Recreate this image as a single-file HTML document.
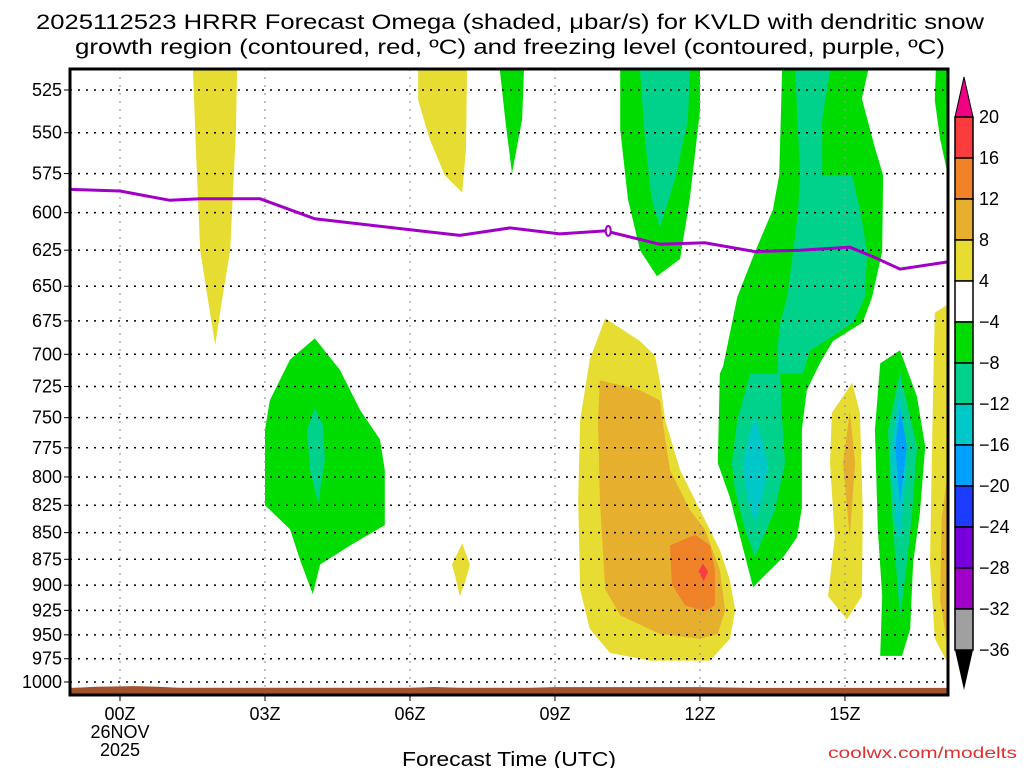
<!DOCTYPE html>
<html><head><meta charset="utf-8"><style>
body{margin:0;background:#fff;}
svg{display:block;font-family:"Liberation Sans",sans-serif;}
</style></head><body>
<svg id="c" width="1024" height="768" viewBox="0 0 1024 768">
<text x="510" y="29" text-anchor="middle" font-size="21" textLength="948" lengthAdjust="spacingAndGlyphs">2025112523 HRRR Forecast Omega (shaded, μbar/s) for KVLD with dendritic snow</text>
<text x="510" y="54" text-anchor="middle" font-size="21" textLength="870" lengthAdjust="spacingAndGlyphs">growth region (contoured, red, ºC) and freezing level (contoured, purple, ºC)</text>
<g id="fills"></g>
<g id="grid"></g>
<g id="lines"></g>
<g id="axes"></g>
<g id="cbar"></g>
<text x="509" y="766" text-anchor="middle" font-size="20" textLength="214" lengthAdjust="spacingAndGlyphs">Forecast Time (UTC)</text>
<text x="1017" y="758" text-anchor="end" font-size="16" fill="#e03030" textLength="189" lengthAdjust="spacingAndGlyphs">coolwx.com/modelts</text>
</svg>
<script>
const pressureTicks=[525,550,575,600,625,650,675,700,725,750,775,800,825,850,875,900,925,950,975,1000];
const hourTicks=[0,3,6,9,12,15];
const hourLabels=["00Z","03Z","06Z","09Z","12Z","15Z"];
const cbarLabels=["20","16","12","8","4","−4","−8","−12","−16","−20","−24","−28","−32","−36"];
const cbarColors=["#fa3c3c","#f08228","#e6af2d","#e6dc32","#ffffff","#00dc00","#00d28c","#00c8c8","#00a0ff","#1e3cff","#7800dc","#a000c8","#a0a0a0"];
const C={y1:"#e6dc32",y2:"#e6af2d",o:"#f08228",r:"#fa3c3c",g:"#00dc00",t:"#00d28c",c:"#00c8c8",b:"#00a0ff"};
const yellowLeft=[[1.51,514],[2.42,514],[2.40,548],[2.28,625],[2.11,660],[1.97,693],[1.82,660],[1.66,625],[1.57,560]];
const yellow06=[[6.17,514],[7.18,514],[7.16,560],[7.08,587],[6.72,576],[6.41,554],[6.17,531]];
const green08=[[7.86,514],[8.36,514],[8.32,542],[8.11,575],[7.97,542]];
const green11=[[10.35,514],[12.0,514],[12.0,537],[11.79,591],[11.59,631],[11.11,643],[10.76,625],[10.51,591],[10.35,548]];
const teal11=[[10.76,514],[11.79,514],[11.75,542],[11.48,579],[11.17,610],[11.0,591],[10.86,554]];
const green13=[[13.70,514],[13.64,576],[13.51,598],[13.14,626],[12.77,658],[12.48,709],[12.41,715],[12.37,788],[12.62,818],[12.83,854],[13.10,902],[13.72,873],[14.01,854],[14.11,827],[14.11,760],[14.21,728],[14.48,707],[14.75,690],[15.37,676],[15.56,658],[15.77,626],[15.79,576],[15.62,559],[15.35,530],[15.48,514]];
const teal14=[[13.97,514],[14.07,576],[14.03,598],[13.93,626],[13.80,658],[13.66,676],[13.61,693],[13.61,715],[14.13,715],[14.28,697],[14.55,691],[15.17,676],[15.41,658],[15.46,626],[15.31,598],[15.15,576],[14.53,576],[14.53,542],[14.69,514]];
const teal13=[[13.04,715],[13.66,715],[13.70,752],[13.76,788],[13.55,829],[13.14,873],[12.93,847],[12.72,811],[12.66,788],[12.77,752]];
const cyan13=[[13.14,749],[13.28,768],[13.41,791],[13.28,820],[13.14,841],[12.99,820],[12.89,791],[12.99,768]];
const green16=[[16.14,697],[16.49,733],[16.66,774],[16.55,832],[16.41,879],[16.35,944],[16.18,972],[15.73,972],[15.77,911],[15.68,847],[15.62,760],[15.73,707]];
const teal16=[[16.14,714],[16.49,774],[16.39,832],[16.24,895],[16.14,932],[16.08,895],[15.97,832],[15.89,760]];
const cyan16=[[16.14,728],[16.28,788],[16.14,857],[16.08,847],[15.93,783]];
const blue16=[[16.14,742],[16.28,774],[16.14,823],[16.04,774]];
const yellow15=[[15.15,722],[15.31,746],[15.37,832],[15.35,911],[15.04,934],[14.65,911],[14.79,854],[14.69,788],[14.73,746]];
const orange15=[[15.10,745],[15.21,788],[15.10,854],[14.96,788]];
const yellowRight=[[17.13,663],[16.86,669],[16.82,736],[16.76,879],[16.86,954],[17.13,980]];
const orangeRight=[[17.13,794],[17.0,838],[16.97,915],[17.13,965]];
const greenRight=[[16.88,514],[17.13,514],[17.13,576],[16.97,554],[16.86,531]];
const yellowBlob=[[10.04,673],[9.72,704],[9.52,752],[9.48,820],[9.52,904],[9.72,944],[10.14,969],[10.97,977],[12.21,977],[12.62,954],[12.73,925],[12.62,895],[12.41,866],[12.10,838],[11.79,811],[11.59,794],[11.28,752],[11.17,720],[11.07,701],[10.76,690]];
const orangeBlob=[[9.93,720],[10.76,728],[11.17,736],[11.28,768],[11.38,794],[11.79,829],[12.10,847],[12.41,885],[12.52,925],[12.37,949],[12.0,954],[11.17,949],[10.35,930],[10.04,904],[9.93,820],[9.89,752]];
const darkOrangeBlob=[[11.38,862],[11.90,852],[12.21,862],[12.31,885],[12.31,920],[12.10,926],[11.69,920],[11.42,899]];
const redBlob=[[12.06,879],[12.17,887],[12.08,896],[11.97,887]];
const green04=[[4.03,688],[4.55,712],[4.97,744],[5.38,768],[5.48,794],[5.48,843],[4.76,862],[4.14,880],[3.99,909],[3.72,875],[3.52,847],[3.0,825],[3.0,760],[3.10,736],[3.52,704]];
const teal04=[[4.03,742],[4.20,756],[4.24,785],[4.10,823],[3.93,794],[3.87,760]];
const yellow07=[[7.08,860],[7.24,880],[7.14,897],[7.03,911],[6.93,890],[6.87,880]];
const fzHours=[-1.03,0,1.03,1.66,2.90,4.03,6.21,7.03,8.07,9.10,10.04,11.17,12.10,13.14,14.07,15.10,15.62,16.14,17.13];
const fzPres=[585,586,592,591,591,604,612,615,610,614,612,621,620,626,625,623,630,638,633];
const groundHours=[-1.03,-0.8,-0.5,0.3,0.8,1.2,6,6.5,7,8.5,9,12,12.9,13.2,17.13];
const groundPres=[1006.5,1006,1005.3,1004.5,1005.3,1006.3,1006.3,1005.5,1006.3,1006.3,1005.6,1005.6,1006.3,1006.5,1006.5];

const L=70,R=948,T=69,B=695;
const X=h=>120+h*48.33;
const Y=p=>90+918.7*Math.log(p/525);
const NS="http://www.w3.org/2000/svg";
function mk(tag,parent){const e=document.createElementNS(NS,tag);parent.appendChild(e);return e;}
const fills=document.getElementById('fills');
const clip=mk('clipPath',document.getElementById('c'));clip.id='pc';
const cr=mk('rect',clip);cr.setAttribute('x',L);cr.setAttribute('y',T);cr.setAttribute('width',R-L);cr.setAttribute('height',B-T);
fills.setAttribute('clip-path','url(#pc)');
function poly(pts,col,name){
  const e=mk('polygon',fills);
  e.setAttribute('points',pts.map(q=>X(q[0]).toFixed(1)+','+Y(q[1]).toFixed(1)).join(' '));
  e.setAttribute('fill',col);
  
  
}
poly(yellowLeft,C.y1,'omega-region');poly(yellow06,C.y1,'omega-region');poly(green08,C.g,'omega-region');
poly(green11,C.g,'omega-region');poly(teal11,C.t,'omega-region');
poly(green13,C.g,'omega-region');poly(teal14,C.t,'omega-region');poly(teal13,C.t,'omega-region');poly(cyan13,C.c,'omega-region');
poly(green16,C.g,'omega-region');poly(teal16,C.t,'omega-region');poly(cyan16,C.c,'omega-region');poly(blue16,C.b,'omega-region');
poly(yellow15,C.y1,'omega-region');poly(orange15,C.y2,'omega-region');
poly(yellowRight,C.y1,'omega-region');poly(orangeRight,C.y2,'omega-region');poly(greenRight,C.g,'omega-region');
poly(yellowBlob,C.y1,'omega-region');poly(orangeBlob,C.y2,'omega-region');poly(darkOrangeBlob,C.o,'omega-region');poly(redBlob,C.r,'omega-region');
poly(green04,C.g,'omega-region');poly(teal04,C.t,'omega-region');poly(yellow07,C.y1,'omega-region');
const gpts=groundHours.map((h,i)=>X(h).toFixed(1)+','+Y(groundPres[i]).toFixed(1));
gpts.push(R+','+B,L+','+B);
const gr=mk('polygon',fills);gr.setAttribute('points',gpts.join(' '));gr.setAttribute('fill','#a0522d');



const grid=document.getElementById('grid');
pressureTicks.forEach(p=>{const l=mk('line',grid);l.setAttribute('x1',L);l.setAttribute('x2',R);l.setAttribute('y1',Y(p));l.setAttribute('y2',Y(p));l.setAttribute('stroke','#000');l.setAttribute('stroke-width','1.5');l.setAttribute('stroke-dasharray','2 6');

});
hourTicks.forEach(h=>{const l=mk('line',grid);l.setAttribute('x1',X(h));l.setAttribute('x2',X(h));l.setAttribute('y1',T);l.setAttribute('y2',B);l.setAttribute('stroke','#999');l.setAttribute('stroke-width','1.2');l.setAttribute('stroke-dasharray','2 6');

});

const lines=document.getElementById('lines');lines.setAttribute('clip-path','url(#pc)');
const fz=mk('polyline',lines);
fz.setAttribute('points',fzHours.map((h,i)=>X(h).toFixed(1)+','+Y(fzPres[i]).toFixed(1)).join(' '));
fz.setAttribute('fill','none');fz.setAttribute('stroke','#a000c8');fz.setAttribute('stroke-width','3');


const fzl=mk('ellipse',lines);fzl.setAttribute('cx',X(10.04)+3);fzl.setAttribute('cy',Y(612));fzl.setAttribute('rx',2.5);fzl.setAttribute('ry',5);fzl.setAttribute('fill','#fff');fzl.setAttribute('stroke','#a000c8');fzl.setAttribute('stroke-width','2');



const axes=document.getElementById('axes');
const fr=mk('rect',axes);fr.setAttribute('x',L);fr.setAttribute('y',T);fr.setAttribute('width',R-L);fr.setAttribute('height',B-T);fr.setAttribute('fill','none');fr.setAttribute('stroke','#000');fr.setAttribute('stroke-width','3');


pressureTicks.forEach(p=>{
  const t=mk('line',axes);t.setAttribute('x1',L-6);t.setAttribute('x2',L);t.setAttribute('y1',Y(p));t.setAttribute('y2',Y(p));t.setAttribute('stroke','#000');
  const s=mk('text',axes);s.setAttribute('x',L-8);s.setAttribute('y',Y(p)+6);s.setAttribute('text-anchor','end');s.setAttribute('font-size','18');s.textContent=p;
  
  
});
hourTicks.forEach((h,i)=>{
  const t=mk('line',axes);t.setAttribute('x1',X(h));t.setAttribute('x2',X(h));t.setAttribute('y1',B);t.setAttribute('y2',B+6);t.setAttribute('stroke','#000');
  const s=mk('text',axes);s.setAttribute('x',X(h));s.setAttribute('y',B+25);s.setAttribute('text-anchor','middle');s.setAttribute('font-size','18');s.textContent=hourLabels[i];
  
  
});
[["26NOV",738],["2025",756]].forEach(d=>{const s=mk('text',axes);s.setAttribute('x',X(0));s.setAttribute('y',d[1]);s.setAttribute('text-anchor','middle');s.setAttribute('font-size','18');s.textContent=d[0];

});

const cb=document.getElementById('cbar');
const cx0=955,cw=18,ct=117,ch=41;
const up=mk('polygon',cb);up.setAttribute('points',`${cx0},${ct} ${cx0+cw},${ct} ${cx0+cw/2},${ct-40}`);up.setAttribute('fill','#f00082');up.setAttribute('stroke','#000');


cbarColors.forEach((col,i)=>{const r=mk('rect',cb);r.setAttribute('x',cx0);r.setAttribute('y',ct+i*ch);r.setAttribute('width',cw);r.setAttribute('height',ch);r.setAttribute('fill',col);r.setAttribute('stroke','#000');r.setAttribute('stroke-width','1.5');

});
const yb=ct+cbarColors.length*ch;
const dn=mk('polygon',cb);dn.setAttribute('points',`${cx0},${yb} ${cx0+cw},${yb} ${cx0+cw/2},${yb+40}`);dn.setAttribute('fill','#000');


cbarLabels.forEach((t,i)=>{const s=mk('text',cb);s.setAttribute('x',979);s.setAttribute('y',ct+i*ch+6);s.setAttribute('font-size','18');s.textContent=t;

});
</script>
</body></html>
